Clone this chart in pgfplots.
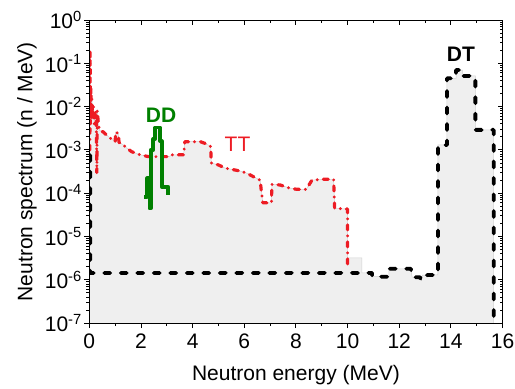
\documentclass[border=0pt]{standalone}
\usepackage{fontspec}
\setmainfont{Liberation Sans}
\usepackage{pgfplots}
\pgfplotsset{compat=1.18}
\definecolor{ttred}{RGB}{237,28,36}
\definecolor{ddgreen}{RGB}{0,128,0}
\definecolor{fillgray}{RGB}{239,239,239}
\pgfplotsset{mybase/.style={
  scale only axis, width=413pt, height=303pt,
  xmin=0, xmax=16, ymin=1e-7, ymax=1,
  xtick={0,2,...,16}, minor xtick={1,3,...,15},
  ytick={1e-7,1e-6,1e-5,1e-4,1e-3,1e-2,1e-1,1},
  minor ytick={2e-7,3e-7,4e-7,5e-7,6e-7,7e-7,8e-7,9e-7,2e-6,3e-6,4e-6,5e-6,6e-6,7e-6,8e-6,9e-6,2e-5,3e-5,4e-5,5e-5,6e-5,7e-5,8e-5,9e-5,2e-4,3e-4,4e-4,5e-4,6e-4,7e-4,8e-4,9e-4,2e-3,3e-3,4e-3,5e-3,6e-3,7e-3,8e-3,9e-3,2e-2,3e-2,4e-2,5e-2,6e-2,7e-2,8e-2,9e-2,0.2,0.3,0.4,0.5,0.6,0.7,0.8,0.9},
  major tick length=5pt, minor tick length=3pt,
  every tick/.style={line width=0.9pt, black},
  axis line style={line width=1pt, black},
}}
\begin{document}
\begin{tikzpicture}
\begin{semilogyaxis}[mybase, name=ax,
  tick align=outside, xtick pos=left, ytick pos=left,
  yticklabels={10\textsuperscript{-7},10\textsuperscript{-6},10\textsuperscript{-5},10\textsuperscript{-4},10\textsuperscript{-3},10\textsuperscript{-2},10\textsuperscript{-1},10\textsuperscript{0}},
  ticklabel style={font=\fontsize{21}{24}\selectfont},
  yticklabel style={xshift=1pt},
  xticklabel style={yshift=-2pt},
  /pgf/number format/assume math mode=true,
  xlabel={Neutron energy (MeV)}, ylabel={Neutron spectrum (n / MeV)},
  xlabel style={at={(axis description cs:0.5,-0.1716)}, anchor=center},
  ylabel style={at={(axis description cs:-0.151,0.5)}, anchor=center},
  label style={font=\fontsize{21}{24}\selectfont},
]
% total spectrum (grey area)
\addplot[fill=fillgray, draw=gray!35, line width=0.5pt] coordinates {
(0,1e-7) (0,1e-3) (0.03,0.2) (0.04,4e-3) (0.06,0.03) (0.08,5e-3) (0.10,0.015) (0.13,5e-3) (0.16,0.01) (0.19,4e-3) (0.23,8e-3) (0.27,5e-3) (0.31,8e-3) (0.35,4e-3) (0.40,2.8e-3) (0.54,2.6e-3) (0.67,2.2e-3) (0.80,1.9e-3) (1.00,1.55e-3) (1.02,2.6e-3) (1.12,2.4e-3) (1.15,1.5e-3) (1.32,1.3e-3) (1.45,1.1e-3) (1.64,9.1e-4) (1.97,7.7e-4) (2.29,7e-4) (2.38,7e-4) (2.38,1e-3) (2.48,1e-3) (2.48,1.8e-3) (2.55,1.8e-3) (2.55,3.3e-3) (2.74,3.3e-3) (2.74,1.6e-3) (2.80,1.6e-3) (2.80,7e-4) (3.1,7e-4) (3.2,7.7e-4) (3.65,7.7e-4) (3.7,1.55e-3) (4.3,1.55e-3) (4.5,1.4e-3) (4.7,1.2e-3) (4.72,5e-4) (5.0,4.5e-4) (5.26,3.8e-4) (5.58,3.5e-4) (5.9,3.2e-4) (6.1,2.9e-4) (6.36,2.4e-4) (6.62,2.0e-4) (6.66,1.1e-4) (6.72,6e-5) (7.05,6e-5) (7.07,1.6e-4) (7.39,1.55e-4) (7.78,1.3e-4) (8.04,1.23e-4) (8.4,1.23e-4) (8.62,2.0e-4) (9.07,2.1e-4) (9.46,2.1e-4) (9.5,4.5e-5) (9.98,4.3e-5) (10.0,4.3e-5) (10.0,3.2e-6) (10.55,3.2e-6) (10.55,1.44e-6) (10.95,1.44e-6) (10.95,1.18e-6) (11.6,1.18e-6) (11.6,1.8e-6) (12.45,1.8e-6) (12.5,1.15e-6) (12.8,1.15e-6) (12.85,1.0e-6) (12.9,1.28e-6) (13.5,1.3e-6) (13.5,1.3e-3) (13.85,1.3e-3) (13.85,0.045) (14.2,0.045) (14.2,0.07) (14.45,0.07) (14.45,0.051) (14.95,0.051) (14.95,2.9e-3) (15.66,2.9e-3) (15.66,1e-7)
};
% DT
\addplot[black, line width=3.8pt, line cap=round, line join=round, dash pattern=on 6pt off 10.5pt] coordinates {
(0.03,7.6e-4) (0.03,1.44e-6) (10.95,1.44e-6) (10.95,1.18e-6) (11.6,1.18e-6) (11.6,1.8e-6) (12.45,1.8e-6) (12.5,1.15e-6) (12.8,1.15e-6) (12.85,1.0e-6) (12.9,1.28e-6) (13.5,1.3e-6) (13.5,1.3e-3) (13.85,1.3e-3) (13.85,0.045) (14.2,0.045) (14.2,0.07) (14.45,0.07) (14.45,0.051) (14.95,0.051) (14.95,2.9e-3) (15.66,2.9e-3) (15.66,1e-7)
};
% TT
\addplot[ttred, line width=3.2pt, line cap=round, line join=round, dash pattern=on 5pt off 6pt on 0pt off 6pt] coordinates {
(0.00,1e-3) (0.02,1e-3) (0.03,0.2) (0.04,4e-3) (0.06,0.03) (0.08,5e-3) (0.10,0.015) (0.13,5e-3) (0.16,0.01) (0.19,4e-3) (0.23,8e-3) (0.27,5e-3) (0.29,3e-4) (0.31,8e-3) (0.35,4e-3) (0.40,2.8e-3) (0.54,2.6e-3) (0.67,2.2e-3) (0.80,1.9e-3) (1.00,1.55e-3) (1.02,2.6e-3) (1.12,2.4e-3) (1.15,1.5e-3) (1.32,1.3e-3) (1.45,1.1e-3) (1.64,9.1e-4) (1.97,7.7e-4) (2.29,7e-4) (3.1,7e-4) (3.2,7.7e-4) (3.65,7.7e-4) (3.7,1.55e-3) (4.3,1.55e-3) (4.5,1.4e-3) (4.7,1.2e-3) (4.72,5e-4) (5.0,4.5e-4) (5.26,3.8e-4) (5.58,3.5e-4) (5.9,3.2e-4) (6.1,2.9e-4) (6.36,2.4e-4) (6.62,2.0e-4) (6.66,1.1e-4) (6.72,6e-5) (7.05,6e-5) (7.07,1.6e-4) (7.39,1.55e-4) (7.78,1.3e-4) (8.04,1.23e-4) (8.4,1.23e-4) (8.62,2.0e-4) (9.07,2.1e-4) (9.46,2.1e-4) (9.5,4.5e-5) (9.98,4.3e-5) (10.0,4.3e-5) (10.0,2e-6)
};
% DD
\addplot[ddgreen, line width=3.8pt, line join=round] coordinates {
(2.12,8.3e-5) (2.24,8.3e-5) (2.24,2.2e-4) (2.33,2.2e-4) (2.33,4.5e-5) (2.38,4.5e-5) (2.38,1e-3) (2.48,1e-3) (2.48,1.8e-3) (2.55,1.8e-3) (2.55,3.3e-3) (2.74,3.3e-3) (2.74,1.6e-3) (2.80,1.6e-3) (2.80,1.4e-4) (3.06,1.4e-4) (3.06,9e-5)
};
\node[font=\bfseries\fontsize{21}{24}\selectfont, text=ddgreen] at (axis cs:2.78,6.4e-3) {DD};
\node[font=\fontsize{21}{24}\selectfont, text=ttred] at (axis cs:5.74,1.37e-3) {TT};
\node[font=\bfseries\fontsize{21}{24}\selectfont, text=black] at (axis cs:14.39,0.164) {DT};
\end{semilogyaxis}
\begin{semilogyaxis}[mybase, at={(ax.south west)}, anchor=south west,
  tick align=inside, xtick pos=right, ytick pos=right,
  xticklabels={}, yticklabels={}]
\end{semilogyaxis}
\pgfresetboundingbox
\path[use as bounding box] ([shift={(-89.3pt,-65pt)}]ax.south west) rectangle ([shift={(12.5pt,20pt)}]ax.north east);
\end{tikzpicture}
\end{document}
